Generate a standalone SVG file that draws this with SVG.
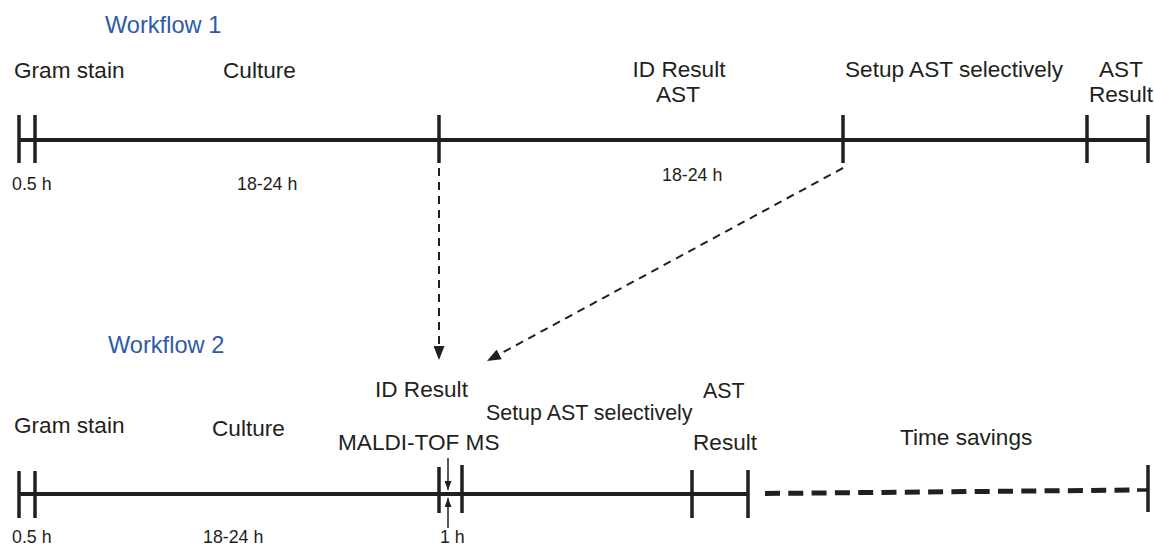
<svg xmlns="http://www.w3.org/2000/svg" width="1154" height="546" viewBox="0 0 1154 546">
<defs>
<style>
.t{font-family:"Liberation Sans",Arial,sans-serif;font-size:22.6px;fill:#231f20}
.b{font-size:21.4px}
.s{font-family:"Liberation Sans",Arial,sans-serif;font-size:17.8px;fill:#231f20}
.w{font-family:"Liberation Sans",Arial,sans-serif;font-size:23.6px;fill:#2f5aa8}
.axis{stroke:#231f20;stroke-width:4;fill:none}
.tick{stroke:#231f20;stroke-width:3.5;fill:none}
.dash{stroke:#231f20;stroke-width:2;fill:none;stroke-dasharray:8 6}
.save{stroke:#231f20;stroke-width:5;fill:none;stroke-dasharray:15 8.3}
.thin{stroke:#231f20;stroke-width:1.5;fill:none}
</style>
<marker id="ah" viewBox="0 0 14 11" refX="14" refY="5.5" markerWidth="14" markerHeight="11" markerUnits="userSpaceOnUse" orient="auto">
<path d="M0,0 L14,5.5 L0,11 z" fill="#231f20"/>
</marker>
<marker id="sh" viewBox="0 0 9 7" refX="9" refY="3.5" markerWidth="9" markerHeight="7" markerUnits="userSpaceOnUse" orient="auto">
<path d="M0,0 L9,3.5 L0,7 z" fill="#231f20"/>
</marker>
</defs>

<g id="workflow1">
<text class="w" x="105" y="33">Workflow 1</text>
<line class="axis" x1="19" y1="140" x2="1148" y2="140"/>
<line class="tick" x1="19" y1="115" x2="19" y2="163"/>
<line class="tick" x1="35" y1="115" x2="35" y2="163"/>
<line class="tick" x1="439" y1="115" x2="439" y2="163"/>
<line class="tick" x1="843" y1="115" x2="843" y2="163"/>
<line class="tick" x1="1087" y1="115" x2="1087" y2="163"/>
<line class="tick" x1="1148" y1="115" x2="1148" y2="163"/>
<text class="t" x="14" y="78">Gram stain</text>
<text class="t" x="223" y="78">Culture</text>
<text class="t" x="679" y="77" text-anchor="middle">ID Result</text>
<text class="t" x="678" y="102" text-anchor="middle">AST</text>
<text class="t" x="845" y="77">Setup AST selectively</text>
<text class="t" x="1121" y="77" text-anchor="middle">AST</text>
<text class="t" x="1121" y="102" text-anchor="middle">Result</text>
<text class="s" x="12" y="190">0.5 h</text>
<text class="s" x="237" y="190">18-24 h</text>
<text class="s" x="662" y="181">18-24 h</text>
</g>

<g id="workflow2">
<text class="w" x="108" y="353">Workflow 2</text>
<line class="axis" x1="19" y1="494" x2="748" y2="494"/>
<line class="tick" x1="19" y1="471" x2="19" y2="518"/>
<line class="tick" x1="35" y1="471" x2="35" y2="518"/>
<line class="tick" x1="439" y1="467" x2="439" y2="513"/>
<line class="tick" x1="462" y1="465" x2="462" y2="513"/>
<line class="tick" x1="692" y1="470" x2="692" y2="518"/>
<line class="tick" x1="748" y1="470" x2="748" y2="518"/>
<line class="tick" x1="1148" y1="465" x2="1148" y2="512"/>
<line class="tick" x1="1137" y1="490" x2="1148" y2="490"/>
<text class="t" x="14" y="433">Gram stain</text>
<text class="t" x="212" y="436">Culture</text>
<text class="t" x="375" y="397">ID Result</text>
<text class="t b" x="486" y="420">Setup AST selectively</text>
<text class="t b" x="703" y="398">AST</text>
<text class="t" x="338" y="450">MALDI-TOF MS</text>
<text class="t" x="693" y="450">Result</text>
<text class="t" x="900" y="445">Time savings</text>
<text class="s" x="12" y="543">0.5 h</text>
<text class="s" x="203" y="543">18-24 h</text>
<text class="s" x="440" y="543">1 h</text>
</g>

<g id="connectors">
<line class="dash" x1="439" y1="168" x2="439" y2="360" marker-end="url(#ah)"/>
<line class="dash" x1="843" y1="168" x2="487" y2="361" marker-end="url(#ah)"/>
<line class="save" x1="765" y1="493.5" x2="1137" y2="490"/>
<line class="thin" x1="448" y1="458" x2="448" y2="490" marker-end="url(#sh)"/>
<line class="thin" x1="448" y1="528" x2="448" y2="498" marker-end="url(#sh)"/>
</g>
</svg>
